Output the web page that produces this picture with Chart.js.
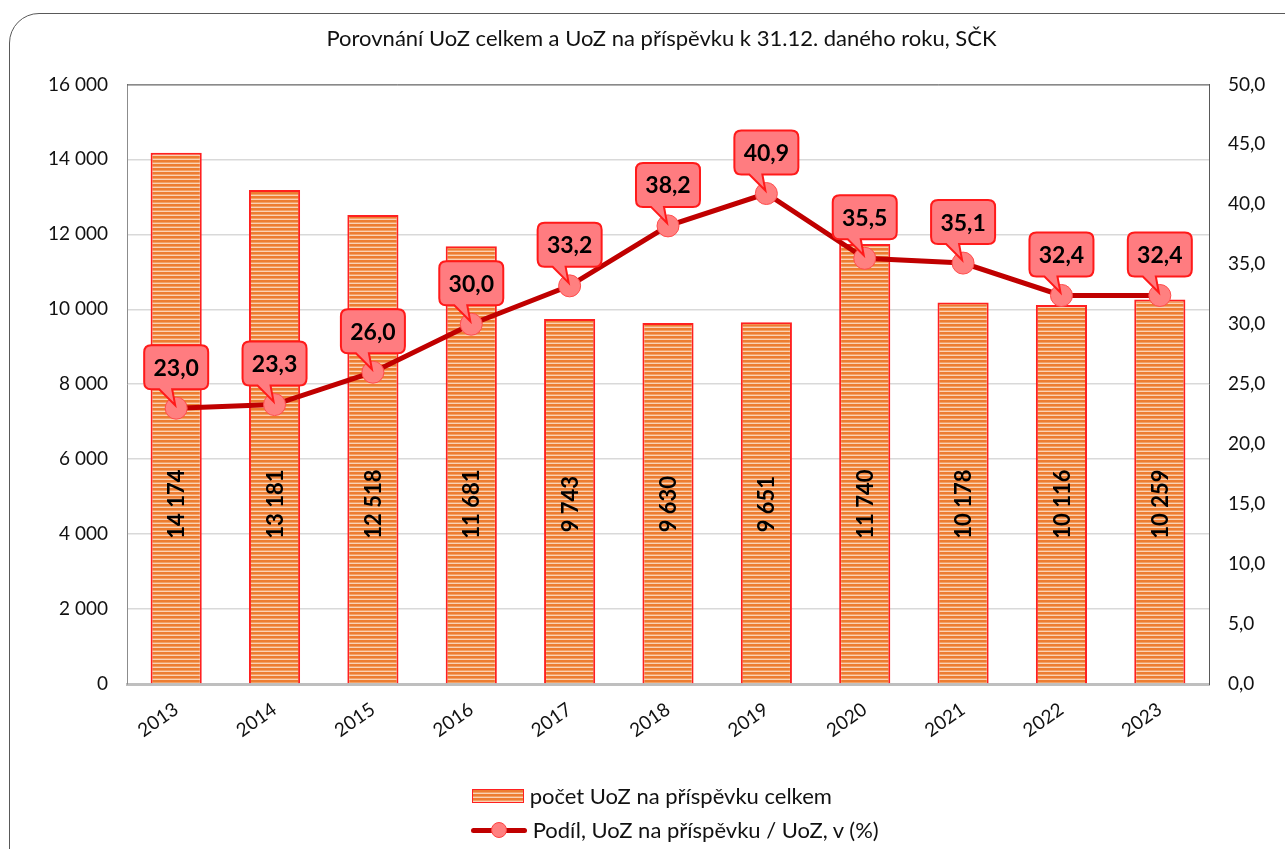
<!DOCTYPE html>
<html lang="cs">
<head>
<meta charset="UTF-8">
<script src="https://cdn.jsdelivr.net/npm/chart.js"></script>
<title>Porovnání UoZ</title>
<style>
  body { margin: 0; background: #fff; font-family: Lato, "Noto Sans", sans-serif; }
  #wrap { position: relative; width: 1285px; height: 849px; overflow: hidden; }
  #frame { position: absolute; left: 9px; top: 13px; width: 1320px; height: 880px;
           border: 1px solid #595959; border-radius: 30px; box-sizing: border-box; }
  canvas { position: absolute; left: 0; top: 0; }
  .leg { position: absolute; font-size: 22px; color: #111; white-space: nowrap; line-height: 26px; }
  .leg span { display: inline-block; vertical-align: middle; }
  .sw-bar { width: 50px; height: 12px; border: 1px solid #ff2020;
            background: repeating-linear-gradient(to bottom, #ED7D31 0 2px, #F3A064 2px 3px, #FAD2B4 3px 4px); }
  .sw-line { position: relative; width: 56px; height: 16px; }
  .sw-line:before { content: ""; position: absolute; left: 0; right: 0; top: 6px; height: 5px;
                    background: #C00000; border-radius: 3px; }
  .sw-line:after { content: ""; position: absolute; left: 20px; top: 0; width: 14px; height: 14px;
                   border-radius: 50%; background: #FF8080; border: 1px solid #FF4040; }
</style>
</head>
<body>
<div id="wrap">
  <div id="frame"></div>
  <canvas id="uozChart" width="1285" height="849"></canvas>
  <div class="leg" style="left:472px; top:781px;"><span class="sw-bar"></span> <span id="leg0"></span></div>
  <div class="leg" style="left:471px; top:815px;"><span class="sw-line"></span> <span id="leg1"></span></div>
</div>

<script>
  // data
  const years = ['2013', '2014', '2015', '2016', '2017', '2018', '2019', '2020', '2021', '2022', '2023'];
  const uozPrispevek = [14174, 13181, 12518, 11681, 9743, 9630, 9651, 11740, 10178, 10116, 10259];
  const podilPct = [23.0, 23.3, 26.0, 30.0, 33.2, 38.2, 40.9, 35.5, 35.1, 32.4, 32.4];
  const leftTicks = [0, 2000, 4000, 6000, 8000, 10000, 12000, 14000, 16000];
  const rightTicks = [0, 5, 10, 15, 20, 25, 30, 35, 40, 45, 50];

  const barLabel = 'počet UoZ na příspěvku celkem';
  const lineLabel = 'Podíl, UoZ na příspěvku / UoZ, v (%)';
  document.getElementById('leg0').textContent = barLabel;
  document.getElementById('leg1').textContent = lineLabel;

  const FONT = 'Lato, "Noto Sans", sans-serif';
  const fmtThousands = v => String(v).replace(/\B(?=(\d{3})+(?!\d))/g, ' ');
  const fmtPct = v => Number(v).toFixed(1).replace('.', ',');

  // striped fill like the excel pattern
  function stripes() {
    const c = document.createElement('canvas');
    c.width = 4; c.height = 4;
    const g = c.getContext('2d');
    g.fillStyle = '#ED7D31'; g.fillRect(0, 0, 4, 2);
    g.fillStyle = '#F3A064'; g.fillRect(0, 2, 4, 1);
    g.fillStyle = '#FAD2B4'; g.fillRect(0, 3, 4, 1);
    return g.createPattern(c, 'repeat');
  }

  // plot area frame (top dark line)
  const frame = {
    id: 'frame',
    beforeDatasetsDraw(chart) {
      const { ctx, chartArea: a } = chart;
      ctx.save();
      ctx.strokeStyle = '#595959';
      ctx.lineWidth = 1;
      ctx.beginPath();
      ctx.moveTo(a.left, a.top + 0.5);
      ctx.lineTo(a.right, a.top + 0.5);
      ctx.stroke();
      ctx.restore();
    }
  };

  // rotated values inside the bars
  const barValues = {
    id: 'barValues',
    afterDatasetsDraw(chart) {
      const { ctx } = chart;
      const meta = chart.getDatasetMeta(0);
      const y = chart.scales.y.getPixelForValue(4800);
      ctx.save();
      ctx.font = 'bold 22px ' + FONT;
      ctx.fillStyle = '#000';
      ctx.textAlign = 'center';
      ctx.textBaseline = 'middle';
      meta.data.forEach((bar, i) => {
        ctx.save();
        ctx.translate(bar.x + 1, y);
        ctx.rotate(-Math.PI / 2);
        ctx.fillText(fmtThousands(uozPrispevek[i]), 0, 0);
        ctx.restore();
      });
      ctx.restore();
    }
  };

  // callout boxes above the line points
  const callouts = {
    id: 'callouts',
    afterDatasetsDraw(chart) {
      const { ctx } = chart;
      const meta = chart.getDatasetMeta(1);
      const w = 64, h = 44, r = 7;
      ctx.save();
      ctx.font = 'bold 23px ' + FONT;
      ctx.textAlign = 'center';
      ctx.textBaseline = 'middle';
      meta.data.forEach((pt, i) => {
        const cx = pt.x, top = pt.y - 63, bottom = top + h;
        const l = cx - w / 2, rr = cx + w / 2;
        ctx.beginPath();
        ctx.moveTo(l + r, top);
        ctx.lineTo(rr - r, top);
        ctx.quadraticCurveTo(rr, top, rr, top + r);
        ctx.lineTo(rr, bottom - r);
        ctx.quadraticCurveTo(rr, bottom, rr - r, bottom);
        ctx.lineTo(cx - 4, bottom);
        ctx.lineTo(cx - 1, pt.y - 3);
        ctx.lineTo(cx - 17, bottom);
        ctx.lineTo(l + r, bottom);
        ctx.quadraticCurveTo(l, bottom, l, bottom - r);
        ctx.lineTo(l, top + r);
        ctx.quadraticCurveTo(l, top, l + r, top);
        ctx.closePath();
        ctx.fillStyle = '#FF7C80';
        ctx.fill();
        ctx.strokeStyle = '#FF1A1A';
        ctx.lineWidth = 2;
        ctx.stroke();
        ctx.fillStyle = '#000';
        ctx.fillText(fmtPct(podilPct[i]), cx, top + h / 2 + 1);
      });
      ctx.restore();
    }
  };

  const ctx = document.getElementById('uozChart').getContext('2d');
  new Chart(ctx, {
    data: {
      labels: years,
      datasets: [{
        type: 'bar',
        label: barLabel,
        data: uozPrispevek,
        yAxisID: 'y',
        backgroundColor: stripes(),
        borderColor: '#FF2020',
        borderWidth: 2,
        barPercentage: 0.52,
        categoryPercentage: 1,
        order: 2
      }, {
        type: 'line',
        label: lineLabel,
        data: podilPct,
        yAxisID: 'y1',
        borderColor: '#C00000',
        borderWidth: 5,
        pointRadius: 11,
        pointBackgroundColor: '#FF8080',
        pointBorderColor: '#FF4D4D',
        pointBorderWidth: 1,
        tension: 0,
        order: 1
      }]
    },
    options: {
      responsive: false,
      animation: false,
      // left padding only shifts the title centre a bit right, like in excel
      layout: { padding: { top: 0, left: 38, right: 0, bottom: 0 } },
      plugins: {
        legend: { display: false },
        tooltip: { enabled: false },
        title: {
          display: true,
          text: 'Porovnání UoZ celkem a UoZ na příspěvku k 31.12. daného roku, SČK',
          color: '#111',
          font: { family: FONT, size: 22, weight: 'normal' },
          padding: { top: 26, bottom: 32 }
        }
      },
      scales: {
        x: {
          grid: { display: false, drawTicks: false },
          border: { color: '#BFBFBF', width: 3 },
          ticks: {
            color: '#111',
            font: { family: FONT, size: 19 },
            minRotation: 35,
            maxRotation: 35,
            padding: 14
          },
          afterFit(s) { s.height = 165; }
        },
        y: {
          position: 'left',
          min: 0,
          max: 16000,
          afterBuildTicks(s) { s.ticks = leftTicks.map(v => ({ value: v })); },
          grid: { color: '#D9D9D9', lineWidth: 1.5, drawTicks: false },
          border: { color: '#8C8C8C', width: 1 },
          ticks: {
            color: '#111',
            font: { family: FONT, size: 19 },
            padding: 19,
            callback: v => fmtThousands(v)
          },
          afterFit(s) { s.width = 89; }
        },
        y1: {
          position: 'right',
          min: 0,
          max: 50,
          afterBuildTicks(s) { s.ticks = rightTicks.map(v => ({ value: v })); },
          grid: { drawOnChartArea: false, drawTicks: false },
          border: { color: '#595959', width: 1 },
          ticks: {
            color: '#111',
            font: { family: FONT, size: 19 },
            padding: 19,
            callback: v => fmtPct(v)
          },
          afterFit(s) { s.width = 76; }
        }
      }
    },
    plugins: [frame, barValues, callouts]
  });
</script>
</body>
</html>
